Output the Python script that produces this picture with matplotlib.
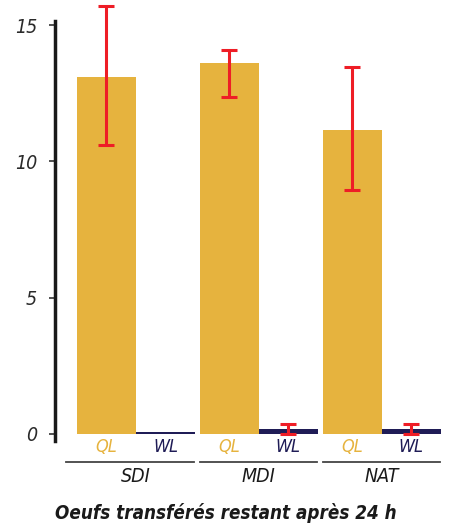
import matplotlib
matplotlib.use('Agg')
import matplotlib.pyplot as plt
import matplotlib.transforms as mtransforms

groups = ['SDI', 'MDI', 'NAT']
castes = ['QL', 'WL']
means = {'QL': [13.1, 13.6, 11.15], 'WL': [0.08, 0.18, 0.18]}
err_low = {'QL': [10.6, 12.35, 8.95], 'WL': [None, 0.01, 0.01]}
err_high = {'QL': [15.7, 14.1, 13.45], 'WL': [None, 0.38, 0.38]}
yticks = [0, 5, 10, 15]
title = 'Oeufs transférés restant après 24 h'

colors = {'QL': '#E6B33E', 'WL': '#1F1C56'}
err_color = '#EE1D26'

plt.rcParams['font.family'] = ['DejaVu Sans']
plt.rcParams['font.stretch'] = 'condensed'


def main():
    fig = plt.figure(figsize=(4.51, 5.28), dpi=100)
    ax = fig.add_axes([55 / 451, 1 - 441 / 528, 393 / 451, 420 / 528])

    spacing = 2.08
    for g, grp in enumerate(groups):
        for c, caste in enumerate(castes):
            x = g * spacing - 0.5 + c
            ax.bar(x, means[caste][g], width=1.0, color=colors[caste], zorder=2)
            lo, hi = err_low[caste][g], err_high[caste][g]
            if lo is not None:
                m = means[caste][g]
                ax.errorbar(x, m, yerr=[[m - lo], [hi - m]], fmt='none',
                            ecolor=err_color, elinewidth=2.2, capsize=6,
                            capthick=2.2, zorder=3, clip_on=False)

    ax.set_xlim(-1.37, 5.28)
    ax.set_ylim(-0.26, 15.15)
    for s in ['top', 'right', 'bottom']:
        ax.spines[s].set_visible(False)
    ax.spines['left'].set_linewidth(2.5)
    ax.spines['left'].set_color('#1a1a1a')
    ax.set_xticks([])
    ax.set_yticks(yticks)
    ax.set_yticklabels([str(v) for v in yticks], fontsize=14, style='italic',
                       color='#2a2a2a')
    ax.tick_params(axis='y', length=4, width=1.2, color='#333333', pad=9)

    trans = mtransforms.blended_transform_factory(ax.transData, fig.transFigure)
    for g, grp in enumerate(groups):
        for c, caste in enumerate(castes):
            x = g * spacing - 0.5 + c
            ax.text(x, 1 - 447 / 528, caste, transform=trans, ha='center',
                    va='center', fontsize=13, style='italic',
                    color=colors[caste])
        left = g * spacing - 1.0 - (0.19 if g == 0 else 0.0)
        right = g * spacing + 0.98
        ax.plot([left, right], [1 - 462 / 528] * 2, transform=trans,
                color='#444444', lw=1.3, clip_on=False)
        ax.text(g * spacing, 1 - 477 / 528, grp, transform=trans, ha='center',
                va='center', fontsize=14, style='italic', color='#1a1a1a')

    fig.text(0.5, 1 - 513 / 528, title, ha='center', va='center',
             fontsize=13.5, style='italic', weight='bold', color='#1a1a1a')

    fig.savefig('out.png', dpi=100)


if __name__ == "__main__":
    main()
